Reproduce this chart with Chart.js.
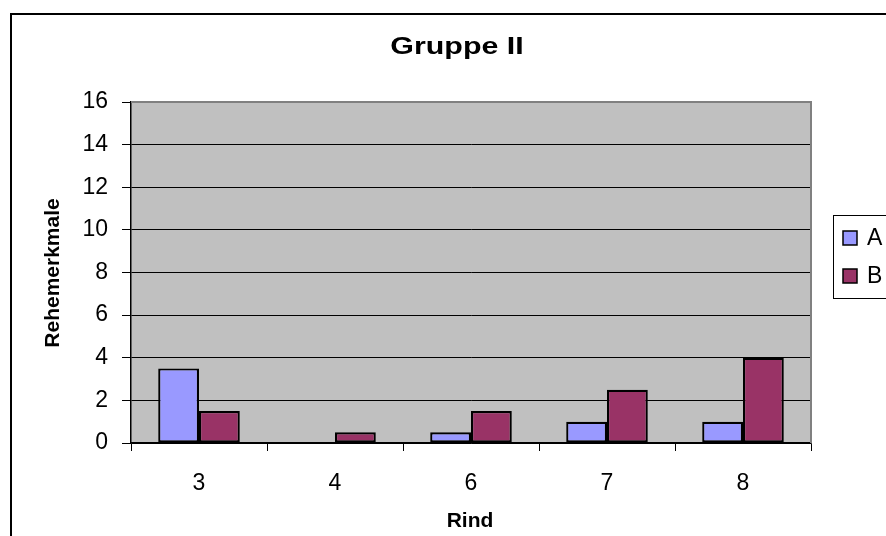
<!DOCTYPE html>
<html>
<head>
<meta charset="utf-8">
<script src="https://cdn.jsdelivr.net/npm/chart.js@4"></script>
<style>
  html, body { margin: 0; padding: 0; background: #fff; overflow: hidden; }
  #wrap { width: 886px; height: 536px; position: relative; }
</style>
</head>
<body>
<div id="wrap"><canvas id="chart" width="886" height="536"></canvas></div>
<script>
// --- DATA ---
const categories = ['3', '4', '6', '7', '8'];
const seriesA = [3.5, 0, 0.5, 1, 1];
const seriesB = [1.5, 0.5, 1.5, 2.5, 4];
const seriesNames = ['A', 'B'];
const yTicks = [0, 2, 4, 6, 8, 10, 12, 14, 16];

const chartTitle = 'Gruppe II';
const xTitle = 'Rind';
const yTitle = 'Rehemerkmale';

const FONT = 'Arial, "Liberation Sans", sans-serif';

// grey plot area, frame, titles and the clipped legend box
const excelLook = {
    id: 'excelLook',
    beforeDraw(chart) {
        const { ctx, chartArea: a } = chart;
        ctx.save();
        ctx.fillStyle = '#fff';
        ctx.fillRect(0, 0, chart.width, chart.height);
        ctx.fillStyle = '#c0c0c0';
        ctx.fillRect(a.left, a.top, a.right - a.left, a.bottom - a.top);
        ctx.restore();
    },
    afterDraw(chart) {
        const { ctx, chartArea: a } = chart;
        ctx.save();
        // outer chart frame (runs off the window at right/bottom)
        ctx.strokeStyle = '#000';
        ctx.lineWidth = 2;
        ctx.beginPath();
        ctx.moveTo(11, 600);
        ctx.lineTo(11, 14);
        ctx.lineTo(950, 14);
        ctx.stroke();

        // plot border top/right
        ctx.strokeStyle = '#808080';
        ctx.lineWidth = 2;
        ctx.beginPath();
        ctx.moveTo(a.left, a.top);
        ctx.lineTo(a.right, a.top);
        ctx.lineTo(a.right, a.bottom);
        ctx.stroke();

        ctx.fillStyle = '#000';
        ctx.textAlign = 'center';
        ctx.textBaseline = 'middle';

        // title is drawn a bit wider, like the original
        ctx.save();
        ctx.translate(457, 48);
        ctx.scale(1.32, 1);
        ctx.font = 'bold 23px ' + FONT;
        ctx.fillText(chartTitle, 0, 0);
        ctx.restore();

        ctx.font = 'bold 21px ' + FONT;
        ctx.fillText(xTitle, 470, 521);

        ctx.save();
        ctx.translate(53, 273);
        ctx.rotate(-Math.PI / 2);
        ctx.fillText(yTitle, 0, 0);
        ctx.restore();

        // legend
        ctx.strokeStyle = '#000';
        ctx.lineWidth = 1;
        ctx.strokeRect(833.5, 215.5, 80, 83);
        ctx.font = '23px ' + FONT;
        ctx.textAlign = 'left';
        chart.data.datasets.forEach((ds, i) => {
            const y = 238 + i * 38;
            ctx.fillStyle = ds.backgroundColor;
            ctx.fillRect(843, y - 7, 14, 14);
            ctx.lineWidth = 1.5;
            ctx.strokeRect(843, y - 7, 14, 14);
            ctx.fillStyle = '#000';
            ctx.fillText(ds.label, 867, y + 1);
        });
        ctx.restore();
    }
};

new Chart(document.getElementById('chart'), {
    type: 'bar',
    data: {
        labels: categories,
        datasets: [
            { label: seriesNames[0], data: seriesA, backgroundColor: '#9999ff' },
            { label: seriesNames[1], data: seriesB, backgroundColor: '#993366' }
        ]
    },
    options: {
        responsive: false,
        animation: false,
        devicePixelRatio: 1,
        layout: { padding: { top: 102, right: 75, bottom: 0, left: 0 } },
        datasets: {
            bar: {
                borderColor: '#000',
                borderWidth: 2.2,
                borderSkipped: false,
                categoryPercentage: 0.6,
                barPercentage: 1
            }
        },
        plugins: {
            legend: { display: false },
            title: { display: false },
            tooltip: { enabled: false }
        },
        scales: {
            x: {
                afterFit(s) { s.height = 93; },
                grid: { drawOnChartArea: false, drawTicks: true, tickLength: 8, color: '#000', lineWidth: 1 },
                border: { color: '#000', width: 1.5 },
                ticks: { color: '#000', padding: 19, font: { family: FONT, size: 23 } }
            },
            y: {
                min: 0,
                max: 16,
                afterFit(s) { s.width = 131; },
                afterBuildTicks(s) { s.ticks = yTicks.map(v => ({ value: v })); },
                grid: { color: '#000', lineWidth: 1, tickLength: 9 },
                border: { color: '#000', width: 1.5 },
                ticks: { color: '#000', padding: 14, font: { family: FONT, size: 23 } }
            }
        }
    },
    plugins: [excelLook]
});
</script>
</body>
</html>
